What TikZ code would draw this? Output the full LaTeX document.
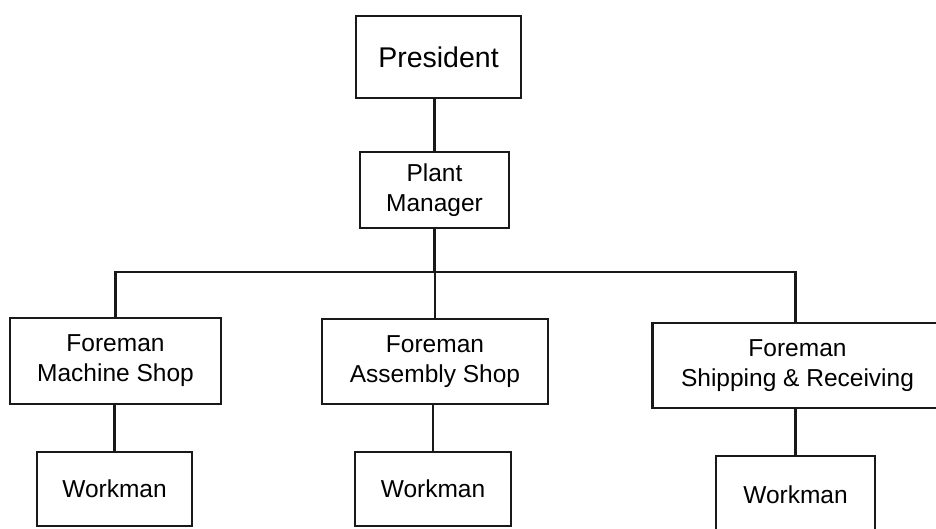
\documentclass[tikz,border=0pt]{standalone}
\usepackage{fontspec}
\setmainfont{Liberation Sans}
\begin{document}
\begin{tikzpicture}[x=1pt,y=-1pt,
  box/.style={draw=black!90, line width=2.6pt, inner sep=0pt, align=center,
    font=\fontsize{24.5}{30}\selectfont},
  link/.style={draw=black!90, line width=2.4pt}]
\clip (0,0) rectangle (936,528);
\fill[white] (0,0) rectangle (936,528);
% top levels
\node[box, minimum width=165pt, minimum height=82pt, font=\fontsize{28.5}{34}\selectfont] (pres) at (438.5,57) {President};
\node[box, minimum width=149pt, minimum height=76pt] (pm) at (434.5,190) {Plant\\Manager};
% foremen
\node[box, minimum width=211pt, minimum height=86pt] (fms) at (115.5,361) {Foreman\\Machine Shop};
\node[box, minimum width=226pt, minimum height=85pt] (fas) at (435,361.5) {Foreman\\Assembly Shop};
\node[box, minimum width=290pt, minimum height=85pt] (fsr) at (797.5,365.5) {Foreman\\Shipping \& Receiving};
% workmen
\node[box, minimum width=155pt, minimum height=74pt] (wl) at (114.5,489) {Workman};
\node[box, minimum width=156pt, minimum height=74pt] (wm) at (433,489) {Workman};
\node[box, minimum width=159pt, minimum height=78pt] (wr) at (795.5,495) {Workman};
% connectors
\coordinate (bus) at (434.5,272);
\draw[link] (pres.south -| pm.north) -- (pm.north);
\draw[link] (pm.south) -- (bus);
\draw[link] (fms.north) |- (bus) -| (wr.north |- fsr.north);
\draw[link] (fas.north) -- (fas.north |- bus);
\draw[link] (wl.north) -- (wl.north |- fms.south);
\draw[link] (wm.north) -- (wm.north |- fas.south);
\draw[link] (wr.north) -- (wr.north |- fsr.south);
\end{tikzpicture}
\end{document}
